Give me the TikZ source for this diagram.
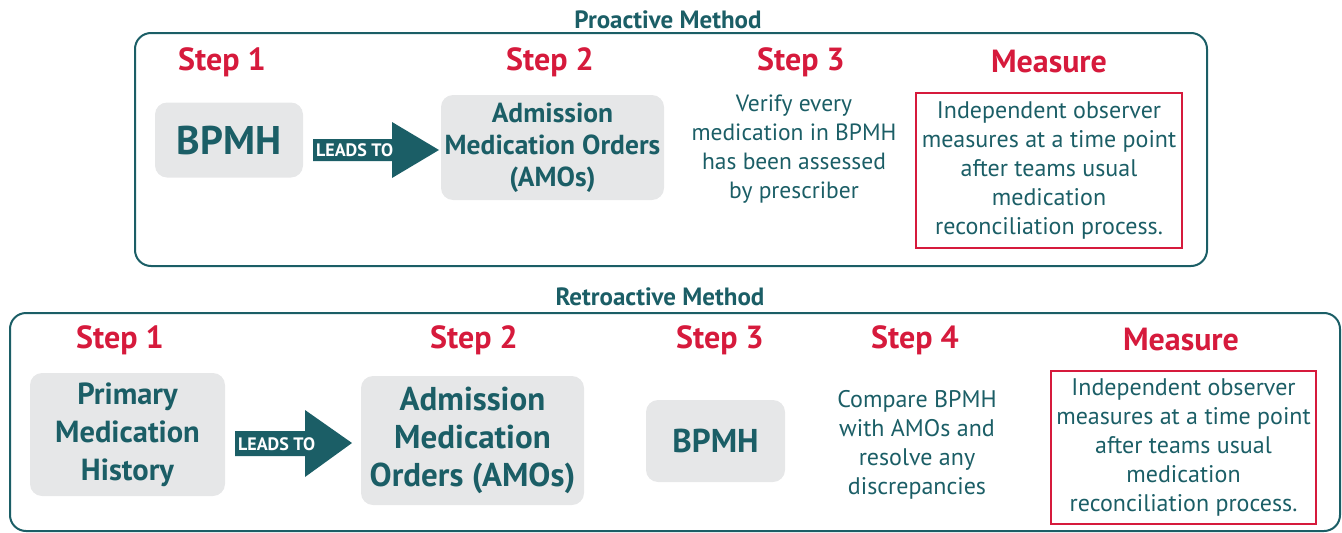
\documentclass[tikz,border=0pt]{standalone}
\usepackage{fontspec}
\setmainfont{PT Sans}
\usetikzlibrary{shapes.arrows}
\definecolor{teal1}{HTML}{1B5E66}
\definecolor{red1}{HTML}{D61A3C}
\definecolor{gray1}{HTML}{E6E7E8}
\tikzset{
  frame/.style={draw=teal1, line width=2pt, rounded corners=16pt},
  title/.style={font=\bfseries\fontsize{25}{27}\selectfont, text=teal1},
  steplab/.style={font=\bfseries\fontsize{32}{34}\selectfont, text=red1},
  graybox/.style={fill=gray1, rounded corners=12pt, text=teal1, align=center},
  plain/.style={text=teal1, align=center, font=\fontsize{23.5}{29}\selectfont},
  measbox/.style={draw=red1, line width=1.4pt, text=teal1, align=center, font=\fontsize{24}{29}\selectfont},
  leads/.style={text=white, font=\bfseries\fontsize{18}{18}\selectfont, inner sep=1pt}
}
\begin{document}
\begin{tikzpicture}[x=1pt,y=-1pt]
\useasboundingbox (0,0) rectangle (1342,533);
% Proactive
\node[title] (ptitle) at (668,20) {Proactive Method};
\draw[frame] (135,33) rectangle (1207,266);
\node[steplab] (ps1) at (222,62) {Step 1};
\node[steplab] (ps2) at (550,62) {Step 2};
\node[steplab] (ps3) at (801,62) {Step 3};
\node[steplab] (pm) at (1049,62) {Measure};
\node[graybox, minimum width=148pt, minimum height=75pt, font=\bfseries\fontsize{40}{42}\selectfont] (pb) at (229,140) {BPMH};
\node[graybox, minimum width=223pt, minimum height=105pt, font=\bfseries\fontsize{27.5}{32}\selectfont] (pa) at (552.5,147.5) {Admission\\Medication Orders\\(AMOs)};
\node[plain] (pv) at (794,149) {Verify every\\medication in BPMH\\has been assessed\\by prescriber};
\node[measbox, minimum width=266pt, minimum height=155pt] (pmb) at (1049,170.5) {Independent observer\\measures at a time point\\after teams usual\\medication\\reconciliation process.};
% arrow 1
\fill[teal1] (313,139) -- (392,139) -- (392,122) -- (439,150) -- (392,178) -- (392,161) -- (313,161) -- cycle;
\node[leads, anchor=west] (pl) at (315,150) {LEADS TO};
% Retroactive
\node[title] (rtitle) at (660,297) {Retroactive Method};
\draw[frame] (10,313) rectangle (1340,531);
\node[steplab] (rs1) at (120,340) {Step 1};
\node[steplab] (rs2) at (474,340) {Step 2};
\node[steplab] (rs3) at (720,340) {Step 3};
\node[steplab] (rs4) at (915,340) {Step 4};
\node[steplab] (rm) at (1181,340) {Measure};
\node[graybox, minimum width=195pt, minimum height=123pt, font=\bfseries\fontsize{30.5}{38}\selectfont] (rp) at (127.5,434.5) {Primary\\Medication\\History};
\node[graybox, minimum width=223pt, minimum height=129pt, font=\bfseries\fontsize{33}{38}\selectfont] (ra) at (472.5,440.5) {Admission\\Medication\\Orders (AMOs)};
\node[graybox, minimum width=139pt, minimum height=82pt, font=\bfseries\fontsize{33}{36}\selectfont] (rb) at (715.5,441) {BPMH};
\node[plain, font=\fontsize{24}{29}\selectfont] (rc) at (917,445) {Compare BPMH\\with AMOs and\\resolve any\\discrepancies};
\node[measbox, minimum width=265pt, minimum height=153pt] (rmb) at (1183.5,447.5) {Independent observer\\measures at a time point\\after teams usual\\medication\\reconciliation process.};
\fill[teal1] (235,431) -- (305,431) -- (305,410) -- (352,443) -- (305,477) -- (305,456) -- (235,456) -- cycle;
\node[leads, anchor=west] (rl) at (237,444) {LEADS TO};
\end{tikzpicture}
\end{document}
